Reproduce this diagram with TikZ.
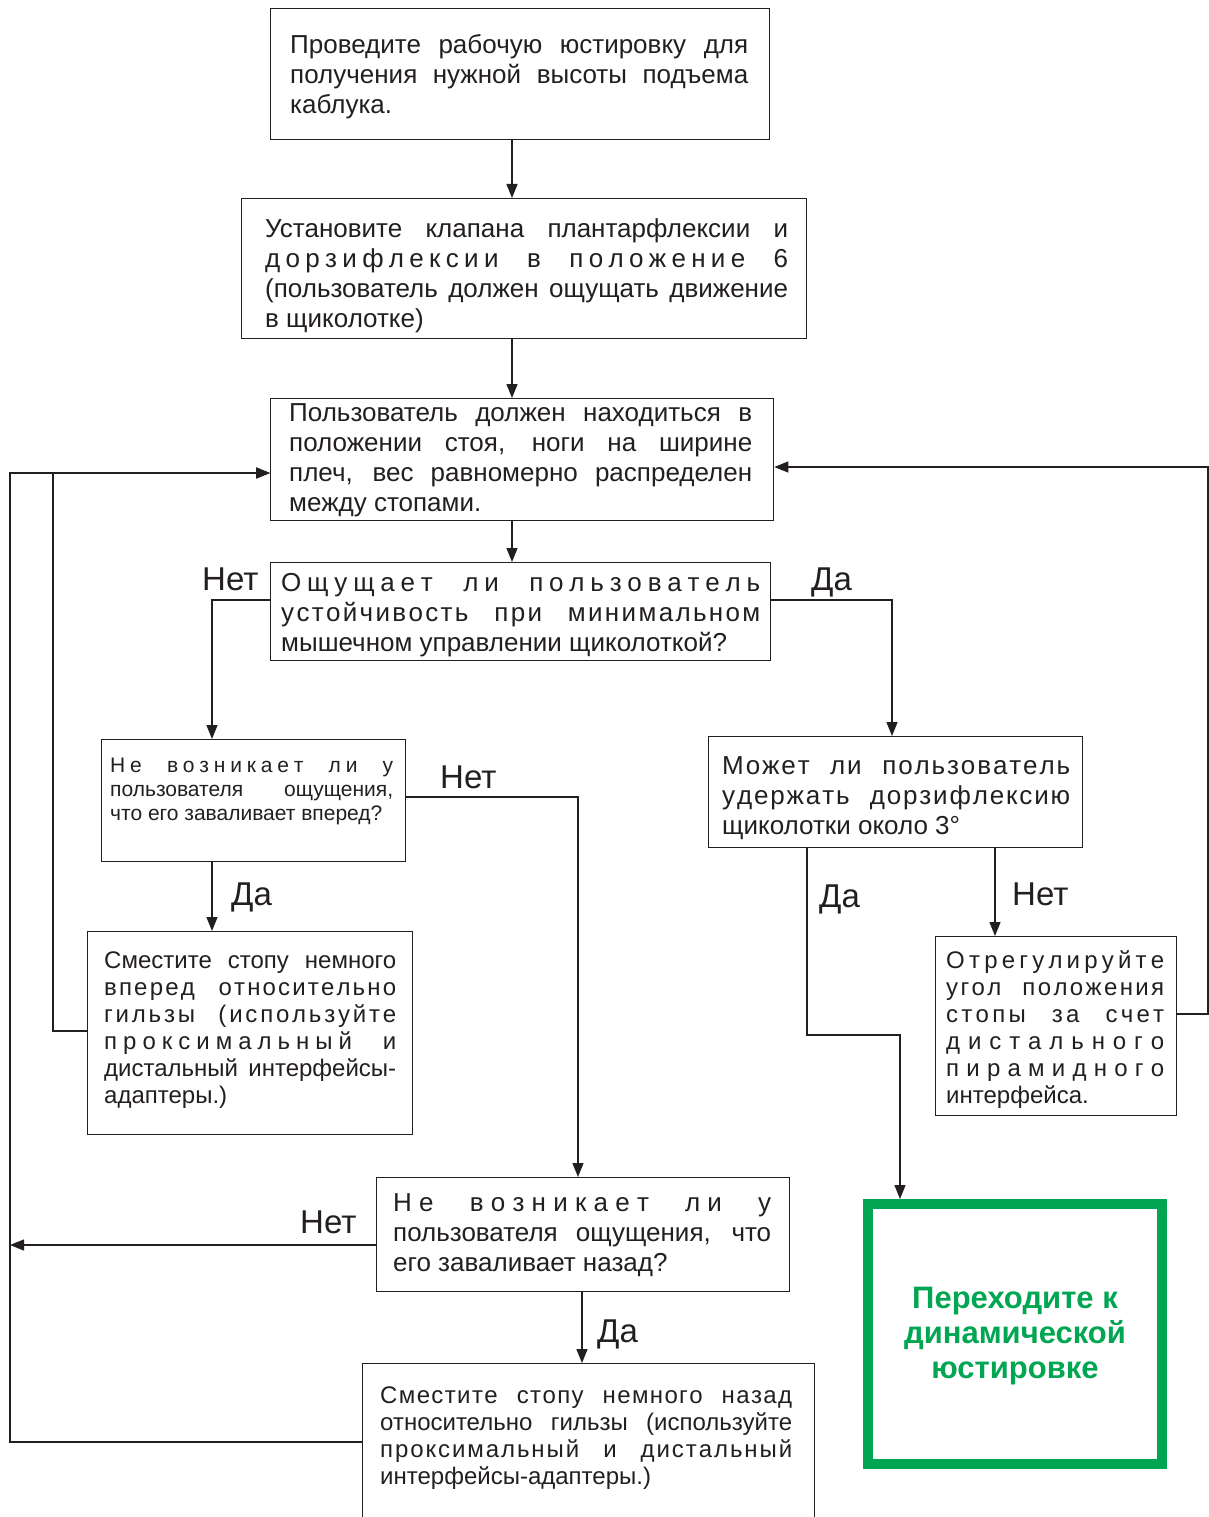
\documentclass[tikz,border=0pt]{standalone}
\usepackage{fontspec}
\setmainfont{Liberation Sans}
\usetikzlibrary{arrows.meta}
\definecolor{ottogreen}{HTML}{00A651}
\definecolor{ink}{HTML}{231F20}

\ExplSyntaxOn
\bool_new:N \l__ls_started_bool
\cs_new_protected:Npn \__ls_word:n #1
  {
    \tl_map_inline:nn {#1}
      {
        \bool_if:NT \l__ls_started_bool { \hfil }
        \bool_set_true:N \l__ls_started_bool
        ##1
      }
  }
\NewDocumentCommand \linS { O{3} m m }
  {
    \hbox_to_wd:nn {#2}
      {
        \bool_set_false:N \l__ls_started_bool
        \seq_set_split:Nnn \l_tmpa_seq { ~ } {#3}
        \seq_map_inline:Nn \l_tmpa_seq
          {
            \bool_if:NT \l__ls_started_bool
              { \c_space_tl \skip_horizontal:n { 0pt ~ plus ~ #1 fil } }
            \__ls_word:n {##1}
          }
      }
  }
\ExplSyntaxOff
\newcommand\linJ[2]{\hbox to #1{#2}}
\newcommand\linN[1]{\hbox{#1}}
\newcommand\BT[3]{\fontsize{#1}{#2}\selectfont\vtop{#3}}

\tikzset{
  box/.style={draw=ink, line width=1.3pt, rectangle, inner sep=0pt, anchor=north west},
  txt/.style={inner sep=0pt, anchor=base west, text=ink},
  lbl/.style={inner sep=0pt, anchor=base west, font=\fontsize{33}{36}\selectfont, text=ink},
  arr/.style={draw=ink, line width=1.3pt, -{Triangle[length=14pt,width=11pt]}},
  con/.style={draw=ink, line width=1.3pt},
}

\begin{document}
\begin{tikzpicture}[x=1pt,y=-1pt]
\useasboundingbox (0,0) rectangle (1209,1517);
\fill[white] (0,0) rectangle (1209,1517);

% boxes
\node[box, minimum width=499pt, minimum height=131pt] (b1) at (270,8) {};
\node[box, minimum width=565pt, minimum height=140pt] (b2) at (241,198) {};
\node[box, minimum width=503pt, minimum height=122pt] (b3) at (270,398) {};
\node[box, minimum width=500pt, minimum height=98pt] (b4) at (270,562) {};
\node[box, minimum width=304pt, minimum height=122pt] (b5) at (101,739) {};
\node[box, minimum width=325pt, minimum height=203pt] (b6) at (87,931) {};
\node[box, minimum width=374pt, minimum height=111pt] (b7) at (708,736) {};
\node[box, minimum width=241pt, minimum height=179pt] (b8) at (935,936) {};
\node[box, minimum width=413pt, minimum height=114pt] (b9) at (376,1177) {};
\node[box, minimum width=452pt, minimum height=180pt] (b10) at (362,1363) {};
\node[draw=ottogreen, line width=10pt, rectangle, inner sep=0pt, anchor=north west,
      minimum width=294pt, minimum height=260pt] (g) at (863,1199) {};

% texts
\node[txt] (t1) at (290,54) {\BT{26}{30}{%
  \linJ{458pt}{Проведите рабочую юстировку для}%
  \linJ{458pt}{получения нужной высоты подъема}%
  \linN{каблука.}}};
\node[txt] (t2) at (265,237) {\BT{26}{30}{%
  \linJ{523pt}{Установите клапана плантарфлексии и}%
  \linS{523pt}{дорзифлексии в положение 6}%
  \linJ{523pt}{(пользователь должен ощущать движение}%
  \linN{в щиколотке)}}};
\node[txt] (t3) at (289,421) {\BT{26}{30}{%
  \linJ{463pt}{Пользователь должен находиться в}%
  \linJ{463pt}{положении стоя, ноги на ширине}%
  \linJ{463pt}{плеч, вес равномерно распределен}%
  \linN{между стопами.}}};
\node[txt] (t4) at (281,591) {\BT{26}{30}{%
  \linS{479pt}{Ощущает ли пользователь}%
  \linS[7]{479pt}{устойчивость при минимальном}%
  \linN{мышечном управлении щиколоткой?}}};
\node[txt] (t5) at (110,772) {\BT{21}{24}{%
  \linS{283pt}{Не возникает ли у}%
  \linJ{283pt}{пользователя ощущения,}%
  \linN{что его заваливает вперед?}}};
\node[txt] (t6) at (104,968) {\BT{24}{27}{%
  \linJ{292pt}{Сместите стопу немного}%
  \linS[7]{292pt}{вперед относительно}%
  \linS[5]{292pt}{гильзы (используйте}%
  \linS{292pt}{проксимальный и}%
  \linJ{292pt}{дистальный интерфейсы-}%
  \linN{адаптеры.)}}};
\node[txt] (t7) at (722,774) {\BT{26}{30}{%
  \linS[6]{348pt}{Может ли пользователь}%
  \linS[6]{348pt}{удержать дорзифлексию}%
  \linN{щиколотки около 3°}}};
\node[txt] (t8) at (946,968) {\BT{24}{27}{%
  \linS{218pt}{Отрегулируйте}%
  \linS[5]{218pt}{угол положения}%
  \linS[5]{218pt}{стопы за счет}%
  \linS{218pt}{дистального}%
  \linS{218pt}{пирамидного}%
  \linN{интерфейса.}}};
\node[txt] (t9) at (393,1211) {\BT{26}{30}{%
  \linS{378pt}{Не возникает ли у}%
  \linJ{378pt}{пользователя ощущения, что}%
  \linN{его заваливает назад?}}};
\node[txt] (t10) at (380,1403) {\BT{24}{27}{%
  \linS[8]{412pt}{Сместите стопу немного назад}%
  \linJ{412pt}{относительно гильзы (используйте}%
  \linS[8]{412pt}{проксимальный и дистальный}%
  \linN{интерфейсы-адаптеры.)}}};
\node[inner sep=0pt, anchor=base, text=ottogreen] (gt) at (1015,1308)
  {\fontsize{31}{35}\selectfont\bfseries\vtop{%
    \hbox to 280pt{\hfil Переходите к\hfil}%
    \hbox to 280pt{\hfil динамической\hfil}%
    \hbox to 280pt{\hfil юстировке\hfil}}};

% labels
\node[lbl] (l1) at (202,590) {Нет};
\node[lbl] (l2) at (811,590) {Да};
\node[lbl] (l3) at (440,788) {Нет};
\node[lbl] (l4) at (231,905) {Да};
\node[lbl] (l5) at (819,907) {Да};
\node[lbl] (l6) at (1012,905) {Нет};
\node[lbl] (l7) at (300,1233) {Нет};
\node[lbl] (l8) at (597,1342) {Да};

% helper coordinates
\coordinate (colA) at (512,0);
\coordinate (colB) at (212,0);
\coordinate (colC) at (892,0);
\coordinate (colD) at (578,0);
\coordinate (colE) at (582,0);
\coordinate (colF) at (807,0);
\coordinate (colG) at (900,0);
\coordinate (colH) at (995,0);
\coordinate (colL1) at (10,0);
\coordinate (colL2) at (53,0);
\coordinate (colR) at (1208,0);
\coordinate (r467) at (0,467);
\coordinate (r473) at (0,473);
\coordinate (r600) at (0,600);
\coordinate (r797) at (0,797);
\coordinate (r1014) at (0,1014);
\coordinate (r1031) at (0,1031);
\coordinate (r1035) at (0,1035);
\coordinate (r1245) at (0,1245);
\coordinate (r1442) at (0,1442);

% connectors
\draw[arr] (b1.south -| colA) -- (b2.north -| colA);
\draw[arr] (b2.south -| colA) -- (b3.north -| colA);
\draw[arr] (b3.south -| colA) -- (b4.north -| colA);
\draw[arr] (b4.west |- r600) -| (b5.north -| colB);
\draw[arr] (b4.east |- r600) -| (b7.north -| colC);
\draw[arr] (b5.east |- r797) -| (b9.north -| colD);
\draw[arr] (b5.south -| colB) -- (b6.north -| colB);
\draw[arr] (b6.west |- r1031) -| (colL2 |- r473) -- (b3.west |- r473);
\draw[arr] (b10.west |- r1442) -| (colL1 |- r473) -- (b3.west |- r473);
\draw[arr] (b9.west |- r1245) -- (colL1 |- r1245);
\draw[arr] (b9.south -| colE) -- (b10.north -| colE);
\draw[arr] (b7.south -| colF) |- (colG |- r1035) -- (g.north -| colG);
\draw[arr] (b7.south -| colH) -- (b8.north -| colH);
\draw[arr] (b8.east |- r1014) -| (colR |- r467) -- (b3.east |- r467);
\end{tikzpicture}
\end{document}
